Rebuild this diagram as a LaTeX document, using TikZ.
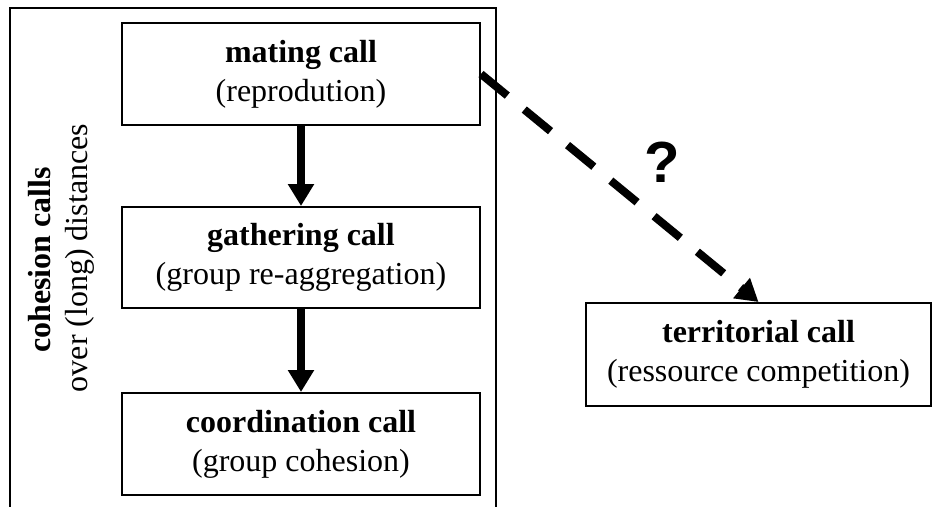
\documentclass[tikz,border=0pt]{standalone}
\usepackage{fontspec}
\setmainfont{Liberation Serif}
\newfontfamily\qfont{Liberation Sans}
\usetikzlibrary{arrows.meta}
\tikzset{
  callbox/.style={draw=black, line width=2pt, minimum width=358pt, minimum height=102pt,
    inner sep=0pt, align=center, font=\fontsize{32}{39}\selectfont},
  sidetext/.style={rotate=90, anchor=base, inner sep=0pt, font=\fontsize{32}{39}\selectfont},
  solidarrow/.style={line width=8pt, -{Triangle[width=25pt,length=22pt]}},
  dasharrow/.style={line width=8pt, dash pattern=on 34pt off 22pt, -{Triangle[width=25pt,length=22pt]}}
}
\begin{document}
\begin{tikzpicture}[x=1pt,y=-1pt]
\useasboundingbox (0,0) rectangle (933,506);
\clip (0,0) rectangle (933,506);
\draw[line width=2pt] (10,530) -- (10,8) -- (496,8) -- (496,530);
\node[callbox] (mating) at (301,74) {\textbf{mating call}\\(reprodution)};
\node[callbox, minimum height=101pt] (gathering) at (301,257.5) {\textbf{gathering call}\\(group re-aggregation)};
\node[callbox] (coordination) at (301,444) {\textbf{coordination call}\\(group cohesion)};
\node[callbox, minimum width=345pt, minimum height=103pt] (territorial) at (758.5,354.5) {\textbf{territorial call}\\(ressource competition)};
\node[sidetext] (cohesion) at (50,260) {\textbf{cohesion calls}};
\node[sidetext] (distances) at (87,258) {over (long) distances};
\draw[solidarrow] (mating.south) -- (gathering.north);
\draw[solidarrow] (gathering.south) -- (coordination.north);
\draw[dasharrow] (mating.east) -- (territorial.north);
\node[font=\qfont\bfseries\fontsize{58}{60}\selectfont, inner sep=0pt] (question) at (662,162) {?};
\end{tikzpicture}
\end{document}
